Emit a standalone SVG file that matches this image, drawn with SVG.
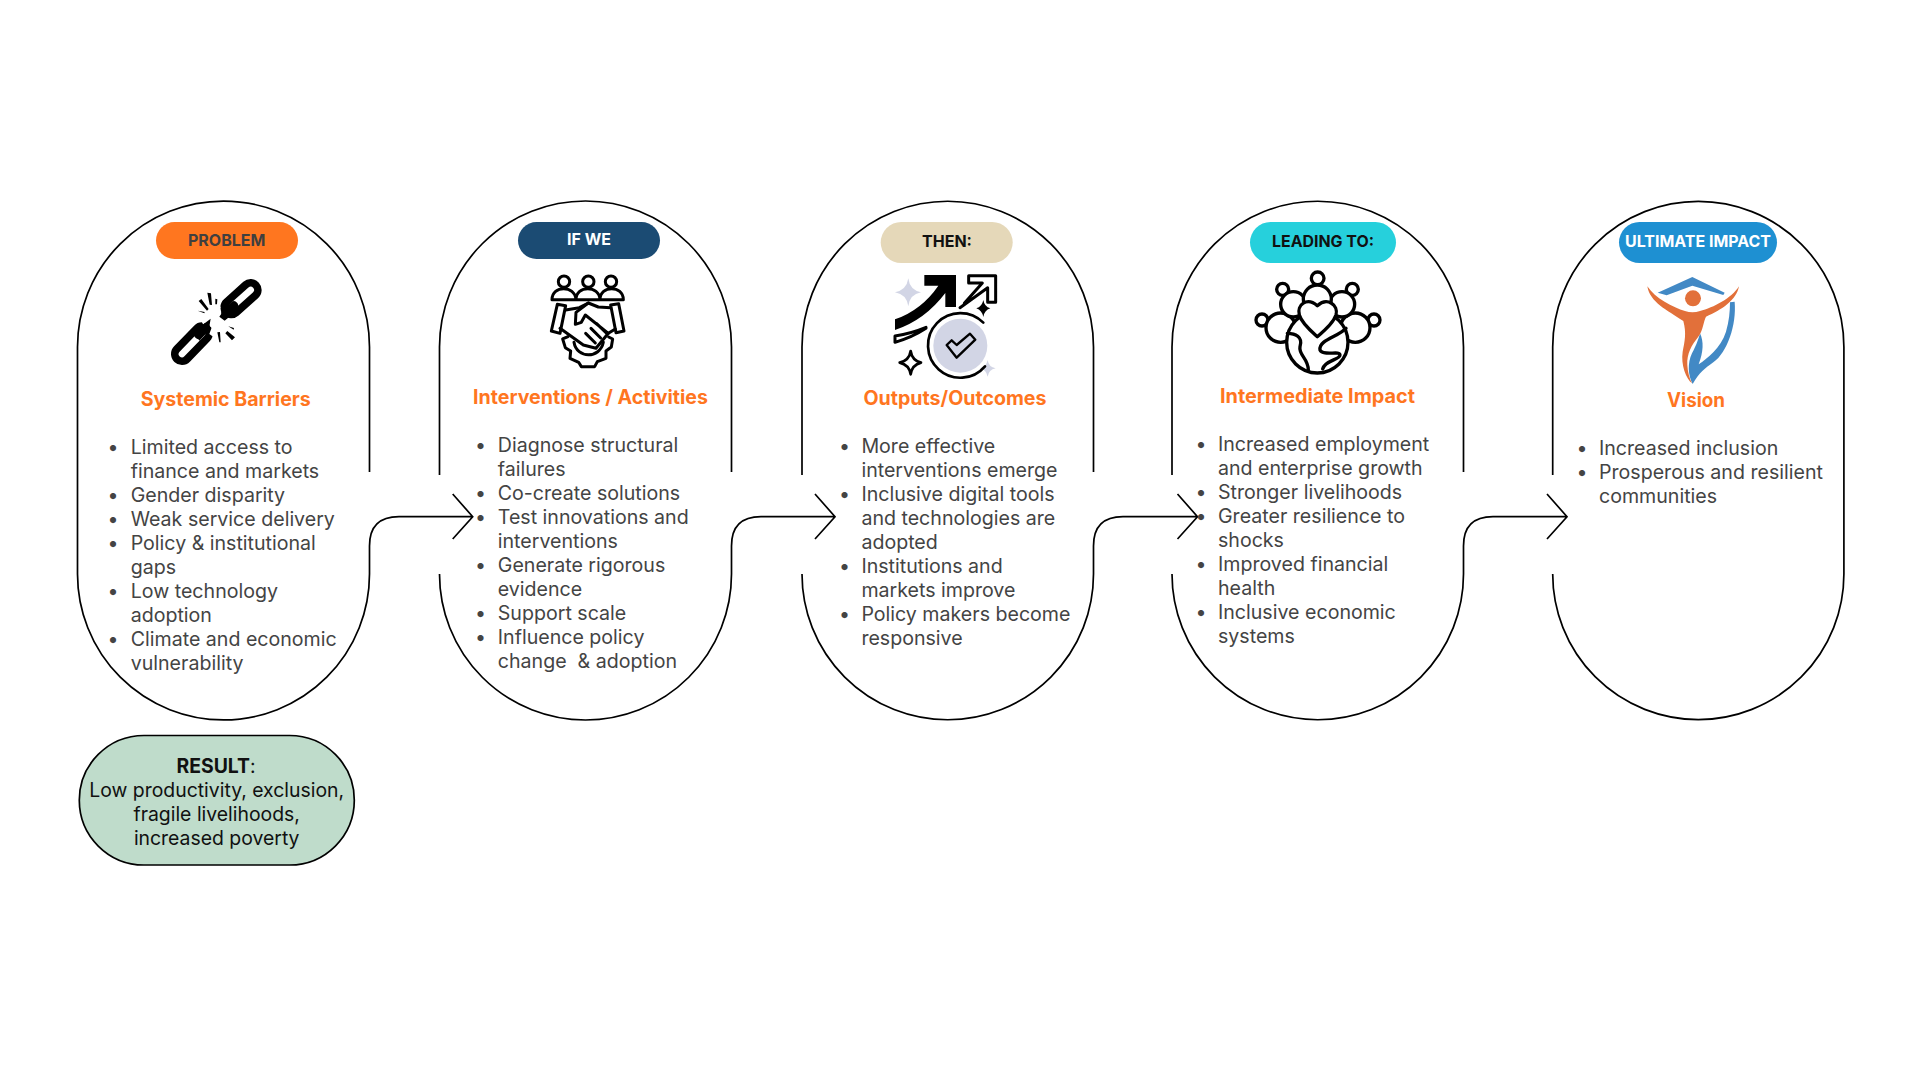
<svg xmlns="http://www.w3.org/2000/svg" width="1920" height="1080" viewBox="0 0 1920 1080">
<style>
text{font-family:"Inter","Liberation Sans",sans-serif}
.o{fill:none;stroke:#000;stroke-width:1.700}
.pill{font-size:16px;font-weight:700;text-anchor:middle}
.title{font-size:19.600px;font-weight:700;fill:#ff761f;text-anchor:middle}
.li{font-size:19.600px;fill:#444}
.r{font-size:19.400px;fill:#111;text-anchor:middle}
.k{fill:none;stroke:#000;stroke-linejoin:round;stroke-linecap:round}
</style>
<rect width="1920" height="1080" fill="#fff"/>
<g id="connectors" class="o">
<path d="M369.500 574V546Q369.500 516.700 399 516.700H472.700M452.700 494L472.700 516.700L452.700 539"/>
<path d="M731.500 574V546Q731.500 516.700 761 516.700H835M815 494L835 516.700L815 539"/>
<path d="M1093.500 574V546Q1093.500 516.700 1123 516.700H1197.500M1177.500 494L1197.500 516.700L1177.500 539"/>
<path d="M1463.500 574V546Q1463.500 516.700 1493 516.700H1567M1547 494L1567 516.700L1547 539"/>
</g>
<g id="node-problem">
<path class="o" d="M369.500 472V347A146 146 0 0 0 77.500 347V574A146 146 0 0 0 369.500 574"/>
<rect x="156" y="222" width="142" height="37" rx="18.500" fill="#ff761f"/>
<text class="pill" x="226.700" y="245.500" fill="#3f3f3f">PROBLEM</text>
<g transform="translate(160 270) scale(.3333)">
<path class="k" stroke-width="66" d="M272 60L214 112"/>
<path class="k" style="stroke:#fff" stroke-width="20" d="M272 60L214 112"/>
<path class="k" stroke-width="66" d="M66 252L126 190"/>
<path class="k" style="stroke:#fff" stroke-width="20" d="M66 252L126 190"/>
<path fill="#fff" d="M170 92L182 112L176 125L196 128L208 150L178 170L166 205L148 192L156 170L132 168L118 142L150 122Z"/>
<path class="k" stroke-width="24" d="M115 195L138 172"/>
<path class="k" stroke-width="24" d="M196 128L222 106"/>
<path fill="#000" d="M105 190L128 164L152 146L146 182L118 212ZM178 140L200 108L232 100L228 124L194 152Z"/>
<path fill="#000" d="M142 68L153 70L156 105L149 104ZM116 93L124 87L146 117L141 122ZM166 86L172 88L171 103L166 103ZM113 122L134 126L133 130ZM205 169L222 174L221 179ZM202 183L225 202L216 211L196 190ZM172 187L180 186L182 217L178 217Z"/>
</g>
<text class="title" x="225.700" y="406">Systemic Barriers</text>
<g class="li">
<text x="107.500" y="453.700">•</text><text x="130.700" y="453.700">Limited access to</text>
<text x="130.700" y="477.700">finance and markets</text>
<text x="107.500" y="501.700">•</text><text x="130.700" y="501.700">Gender disparity</text>
<text x="107.500" y="525.700">•</text><text x="130.700" y="525.700">Weak service delivery</text>
<text x="107.500" y="549.700">•</text><text x="130.700" y="549.700">Policy &amp; institutional</text>
<text x="130.700" y="573.700">gaps</text>
<text x="107.500" y="597.700">•</text><text x="130.700" y="597.700">Low technology</text>
<text x="130.700" y="621.700">adoption</text>
<text x="107.500" y="645.700">•</text><text x="130.700" y="645.700">Climate and economic</text>
<text x="130.700" y="669.700">vulnerability</text>
</g>
</g>
<g id="node-result">
<rect x="79.300" y="735.500" width="275" height="129.500" rx="64.700" fill="#bfdccb" stroke="#000" stroke-width="1.700"/>
<text class="r" x="216" y="772.500"><tspan font-weight="700">RESULT</tspan>:</text>
<text class="r" x="216.700" y="796.500">Low productivity, exclusion,</text>
<text class="r" x="216.700" y="820.500">fragile livelihoods,</text>
<text class="r" x="216.700" y="844.500">increased poverty</text>
</g>
<g id="node-if-we">
<path class="o" d="M731.500 472V347A146 146 0 0 0 439.500 347V475M439.500 574A146 146 0 0 0 731.500 574"/>
<rect x="518" y="222" width="142" height="37" rx="18.500" fill="#1b4b73"/>
<text class="pill" x="589" y="245" fill="#fff">IF WE</text>
<g transform="translate(540 265) scale(.3333)" class="k" stroke-width="9" style="fill:#fff">
<circle cx="72" cy="50" r="17"/><circle cx="145" cy="50" r="17"/><circle cx="213" cy="50" r="17"/>
<path d="M36 104C36 60 105 60 108 104M108 104C108 60 178 60 180 104M180 104C180 60 250 60 250 104M36 104H250"/>
<path d="M52 118L77 122L60 205L34 198ZM212 120L236 116L252 198L228 203Z"/>
<path style="fill:none" d="M77 135L118 128L145 114L175 126L212 128M226 192L205 205L168 250L130 240L60 190"/>
<path style="fill:none" d="M145 114L108 142L106 178L124 172L136 150L205 205M170 176L198 203M153 190L182 219M137 205L166 234"/>
<path style="fill:none" d="M84 215L68 222L76 248L92 258L90 280L116 292L124 305L164 305L172 290L198 280L198 258L214 246L218 222L206 216M102 232C110 282 180 282 190 232"/>
</g>
<text class="title" x="590.500" y="404">Interventions / Activities</text>
<g class="li">
<text x="475" y="452">•</text><text x="497.800" y="452">Diagnose structural</text>
<text x="497.800" y="476">failures</text>
<text x="475" y="500">•</text><text x="497.800" y="500">Co-create solutions</text>
<text x="475" y="524">•</text><text x="497.800" y="524">Test innovations and</text>
<text x="497.800" y="548">interventions</text>
<text x="475" y="572">•</text><text x="497.800" y="572">Generate rigorous</text>
<text x="497.800" y="596">evidence</text>
<text x="475" y="620">•</text><text x="497.800" y="620">Support scale</text>
<text x="475" y="644">•</text><text x="497.800" y="644">Influence policy</text>
<text x="497.800" y="668" xml:space="preserve">change  &amp; adoption</text>
</g>
</g>
<g id="node-then">
<path class="o" d="M1093.500 472V347A145.750 145.750 0 0 0 802 347V475M802 574A145.750 145.750 0 0 0 1093.500 574"/>
<rect x="880.700" y="222" width="132" height="41" rx="20.500" fill="#e5d8b9"/>
<text class="pill" x="947" y="247" fill="#111">THEN:</text>
<g transform="translate(885 265) scale(.3333)">
<path fill="#d2d5e5" d="M70 40Q74 75 108 82Q74 88 70 124Q65 88 30 82Q65 75 70 40ZM308 285Q311 306 332 310Q311 314 308 335Q304 314 284 310Q304 306 308 285Z"/>
<path d="M118 30H213V126H181V84Q120 165 30 195V163Q110 135 160 62H118Z"/>
<path class="k" stroke-width="9" d="M30 213Q80 205 123 187V190Q80 218 30 232ZM251 32H332V112H308V68L225 128M251 32V54H292L238 115"/>
<path d="M295 105Q298 125 316 130Q298 136 295 156Q291 136 274 130Q291 125 295 105Z"/>
<circle cx="226" cy="242" r="81" fill="#d2d5e5"/>
<path class="k" stroke-width="8" d="M295 173A97 97 0 1 0 300 304"/>
<path class="k" stroke-width="7" d="M185 240L200 226L215 240L255 206L271 224L215 278Z"/>
<path class="k" stroke-width="8" d="M77 258Q81 286 108 293Q81 300 77 328Q73 300 44 293Q73 286 77 258Z"/>
</g>
<text class="title" x="955" y="405">Outputs/Outcomes</text>
<g class="li">
<text x="839" y="452.500">•</text><text x="861.400" y="452.500">More effective</text>
<text x="861.400" y="476.500">interventions emerge</text>
<text x="839" y="500.500">•</text><text x="861.400" y="500.500">Inclusive digital tools</text>
<text x="861.400" y="524.500">and technologies are</text>
<text x="861.400" y="548.500">adopted</text>
<text x="839" y="572.500">•</text><text x="861.400" y="572.500">Institutions and</text>
<text x="861.400" y="596.500">markets improve</text>
<text x="839" y="620.500">•</text><text x="861.400" y="620.500">Policy makers become</text>
<text x="861.400" y="644.500">responsive</text>
</g>
</g>
<g id="node-leading">
<path class="o" d="M1463.500 472V347A145.750 145.750 0 0 0 1172 347V475M1172 574A145.750 145.750 0 0 0 1463.500 574"/>
<rect x="1250" y="222" width="146" height="41" rx="20.500" fill="#26d0dc"/>
<text class="pill" x="1323" y="246.500" fill="#111" textLength="102" lengthAdjust="spacingAndGlyphs">LEADING TO:</text>
<g transform="translate(1240 265) scale(.3333)" class="k" stroke-width="10" style="fill:#fff">
<circle cx="233" cy="40" r="19"/><circle cx="128" cy="73" r="18"/><circle cx="337" cy="73" r="18"/><circle cx="66" cy="165" r="18"/><circle cx="402" cy="165" r="18"/>
<circle cx="122" cy="188" r="44"/><circle cx="346" cy="188" r="44"/><circle cx="160" cy="118" r="38"/><circle cx="306" cy="118" r="38"/><circle cx="232" cy="102" r="42"/>
<circle cx="232" cy="232" r="92"/>
<path d="M232 122C200 95 170 120 178 150C185 175 215 200 232 215C250 200 280 175 288 150C296 120 262 95 232 122Z"/>
<path style="fill:none" d="M142 205C165 205 190 215 180 245C175 270 205 280 205 315M318 190C295 215 235 225 240 255C250 275 300 255 300 270C300 285 255 285 248 312"/>
</g>
<text class="title" x="1317.500" y="403" textLength="195" lengthAdjust="spacingAndGlyphs">Intermediate Impact</text>
<g class="li">
<text x="1195.500" y="451">•</text><text x="1218" y="451">Increased employment</text>
<text x="1218" y="475">and enterprise growth</text>
<text x="1195.500" y="499">•</text><text x="1218" y="499">Stronger livelihoods</text>
<text x="1195.500" y="523">•</text><text x="1218" y="523">Greater resilience to</text>
<text x="1218" y="547">shocks</text>
<text x="1195.500" y="571">•</text><text x="1218" y="571">Improved financial</text>
<text x="1218" y="595">health</text>
<text x="1195.500" y="619">•</text><text x="1218" y="619">Inclusive economic</text>
<text x="1218" y="643">systems</text>
</g>
</g>
<g id="node-ultimate">
<path class="o" d="M1552.700 475V347A145.600 145.600 0 0 1 1843.900 347V574A145.600 145.600 0 0 1 1552.700 574"/>
<rect x="1619" y="222" width="158" height="41" rx="20.500" fill="#1e90d2"/>
<text class="pill" x="1698" y="246.500" fill="#fff" textLength="146" lengthAdjust="spacingAndGlyphs">ULTIMATE IMPACT</text>
<g transform="translate(1630 265) scale(.3333)">
<path fill="#4289c5" d="M83 83L187 36L284 83L280 90L187 62L110 91ZM300 112L314 110C320 180 292 262 250 292C225 310 208 322 188 357C174 330 172 295 186 265C200 240 208 215 210 205C222 230 220 262 206 298C232 280 272 250 288 200C297 170 300 140 300 112Z"/>
<circle cx="189" cy="100" r="24" fill="#e2703a"/>
<path fill="#e2703a" d="M52 64C75 100 130 128 165 138C180 143 195 143 210 138C250 128 305 100 327 64C320 105 275 135 228 155C220 170 220 195 205 215C185 240 170 265 172 300C173 320 178 340 186 355C168 340 152 300 158 260C164 230 170 205 160 168C110 135 60 112 52 64Z"/>
</g>
<text class="title" x="1696" y="406.500" textLength="58" lengthAdjust="spacingAndGlyphs">Vision</text>
<g class="li">
<text x="1576.500" y="454.500">•</text><text x="1599" y="454.500">Increased inclusion</text>
<text x="1576.500" y="478.500">•</text><text x="1599" y="478.500">Prosperous and resilient</text>
<text x="1599" y="502.500">communities</text>
</g>
</g>
</svg>
